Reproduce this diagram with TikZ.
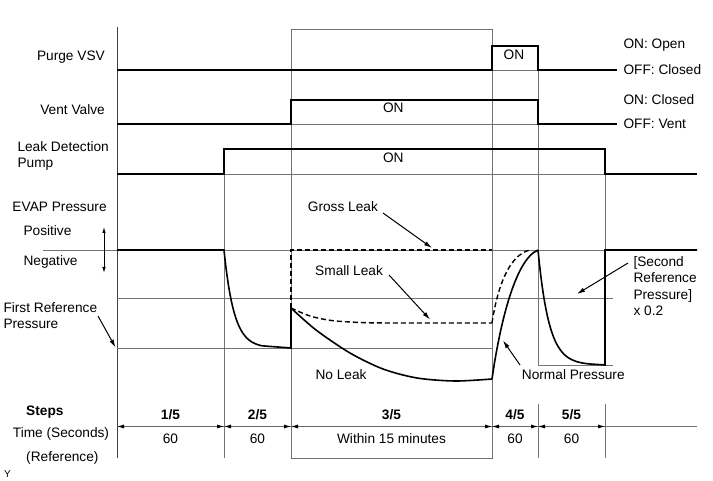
\documentclass[tikz,border=0pt]{standalone}
\usepackage{fontspec}
\setmainfont{Liberation Sans}
\usetikzlibrary{arrows.meta}
\begin{document}
\begin{tikzpicture}[x=1pt,y=-1pt,
  txt/.style={inner sep=0pt, font=\fontsize{13.7}{16.5}\selectfont},
  btxt/.style={inner sep=0pt, font=\fontsize{13.7}{16.5}\selectfont\bfseries},
  grid/.style={draw=black!55, line width=0.8pt},
  sig/.style={draw=black, line width=1.6pt, line join=miter},
  dsh/.style={draw=black, line width=1.4pt, dash pattern=on 5pt off 3pt},
  dim/.style={draw=black!60, line width=0.8pt, {Latex[length=7pt,width=4pt,black]}-{Latex[length=7pt,width=4pt,black]}},
  ann/.style={draw=black, line width=1pt, -{Latex[length=8pt,width=4.5pt]}},
]
\useasboundingbox (0,0) rectangle (713,481);
% grid
\draw[draw=black!75, line width=1pt] (117,27) -- (117,458);
\draw[grid] (291,29) rectangle (492,458);
\draw[grid] (224,149) -- (224,458);
\draw[grid] (538,46) -- (538,365) -- (613,365);
\draw[grid] (538,404) -- (538,458);
\draw[grid] (605,149) -- (605,250);
\draw[grid] (605,404) -- (605,458);
\draw[grid] (492,70) -- (538,70);
\draw[grid] (291,124) -- (538,124);
\draw[grid] (224,174) -- (605,174);
\draw[grid] (43,250) -- (697,250);
\draw[grid] (117,298) -- (613,298);
\draw[grid] (117,348) -- (492,348);
\draw[grid] (117,426.5) -- (697,426.5);
% dimension arrows
\foreach \a/\b in {117/224,224/291,291/492,492/538,538/605}
  \draw[dim] (\a,426.5) -- (\b,426.5);
% signals
\draw[sig] (117,70) -- (492,70) -- (492,46) -- (538,46) -- (538,70) -- (617,70);
\draw[sig] (117,124) -- (291,124) -- (291,100) -- (538,100) -- (538,124) -- (617,124);
\draw[sig] (117,174) -- (224,174) -- (224,149) -- (605,149) -- (605,174) -- (697,174);
% pressure
\draw[sig] (117,250) -- (224,250) -- plot[domain=224:262,samples=40] (\x,{348-98*exp(-(\x-224)/10)}) -- (291,348) -- (291,308);
\draw[sig] plot[smooth] coordinates {(291,308) (316,330) (350,353) (383,369) (417,378) (455,381) (492,379)};
\draw[sig] (492,379) .. controls (499,330) and (514,260) .. (538,250);
\draw[sig] (538,250) -- plot[domain=538:590,samples=40] (\x,{365-115*exp(-(\x-538)/11)}) -- (605,365) -- (605,250) -- (697,250);
\draw[dsh] (291,308) -- (291,250) -- (492,250);
\draw[dsh] plot[smooth] coordinates {(291,308) (310,316) (333,320.7) (366,322.7) (400,323)} -- (492,323);
\draw[dsh] (492,323) .. controls (497,290) and (508,255) .. (530,250);
% left labels
\node[txt, anchor=base east] (purge) at (105,61) {Purge VSV};
\node[txt, anchor=base east] (vent) at (105,115) {Vent Valve};
\node[txt, anchor=base west] (leak1) at (17.3,151.7) {Leak Detection};
\node[txt, anchor=base west] (leak2) at (17.3,168) {Pump};
\node[txt, anchor=base west] (evap) at (12.3,211.7) {EVAP Pressure};
\node[txt, anchor=base west] (pos) at (23.3,236) {Positive};
\node[txt, anchor=base west] (neg) at (23.3,266) {Negative};
\node[txt, anchor=base west] (first1) at (3.3,312.7) {First Reference};
\node[txt, anchor=base west] (first2) at (3.3,328.5) {Pressure};
\coordinate (pn1) at (104,227);
\coordinate (pn2) at (104,273);
\draw[draw=black, line width=0.9pt, {Latex[length=6pt,width=3.5pt]}-{Latex[length=6pt,width=3.5pt]}] (pn1) -- (pn2);
\coordinate (firstend) at (115.5,347.5);
\draw[ann] (98,316) -- (firstend);
% right labels
\node[txt, anchor=base west] (onopen) at (623.3,48.3) {ON: Open};
\node[txt, anchor=base west] (offclosed) at (623.3,75) {OFF: Closed};
\node[txt, anchor=base west] (onclosed) at (623.3,104.3) {ON: Closed};
\node[txt, anchor=base west] (offvent) at (623.3,128.3) {OFF: Vent};
\node[txt, anchor=base] (on1) at (514,60) {ON};
\node[txt, anchor=base] (on2) at (393.3,113) {ON};
\node[txt, anchor=base] (on3) at (393.3,162.7) {ON};
% curve labels
\node[txt, anchor=base west] (gross) at (307.7,211.7) {Gross Leak};
\node[txt, anchor=base west] (small) at (315,276) {Small Leak};
\node[txt, anchor=base west] (noleak) at (315.3,380) {No Leak};
\node[txt, anchor=base west] (normal) at (521.7,380) {Normal Pressure};
\node[txt, anchor=base west] (sec1) at (633.3,266.7) {[Second};
\node[txt, anchor=base west] (sec2) at (633.3,283) {Reference};
\node[txt, anchor=base west] (sec3) at (633.3,300) {Pressure]};
\node[txt, anchor=base west] (sec4) at (633.3,316) {x 0.2};
\coordinate (grossend) at (432,248);
\coordinate (smallend) at (430,319.5);
\coordinate (normalend) at (503,340.5);
\coordinate (secend) at (577,294);
\draw[ann] (383,213) -- (grossend);
\draw[ann] (389,275) -- (smallend);
\draw[ann] (520,365) -- (normalend);
\draw[ann] (628,263) -- (secend);
% steps
\node[btxt, anchor=base west] (steps) at (26,415) {Steps};
\node[txt, anchor=base west] (time) at (12.7,437.5) {Time (Seconds)};
\node[txt, anchor=base west] (ref) at (26,461.5) {(Reference)};
\node[inner sep=0pt, font=\fontsize{10}{12}\selectfont, anchor=base west] (ylab) at (4,477.3) {Y};
\node[btxt, anchor=base] (s1) at (170.5,420) {1/5};
\node[btxt, anchor=base] (s2) at (257.5,420) {2/5};
\node[btxt, anchor=base] (s3) at (391.5,420) {3/5};
\node[btxt, anchor=base] (s4) at (515,420) {4/5};
\node[btxt, anchor=base] (s5) at (571.5,420) {5/5};
\node[txt, anchor=base] (t1) at (170.5,443.3) {60};
\node[txt, anchor=base] (t2) at (257.5,443.3) {60};
\node[txt, anchor=base] (t3) at (391.5,443.3) {Within 15 minutes};
\node[txt, anchor=base] (t4) at (515,443.3) {60};
\node[txt, anchor=base] (t5) at (571.5,443.3) {60};
\end{tikzpicture}
\end{document}
